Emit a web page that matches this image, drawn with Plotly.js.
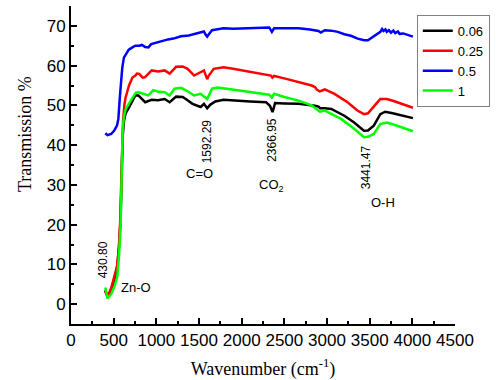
<!DOCTYPE html>
<html>
<head>
<meta charset="utf-8">
<script src="https://cdn.plot.ly/plotly-3.0.1.min.js"></script>
<style>html,body{margin:0;padding:0;background:#fff;}#chart{width:496px;height:380px;}</style>
</head>
<body>
<div id="chart"></div>
<script>
// Series names
const seriesNames = ["0.06", "0.25", "0.5", "1"];
const seriesColors = ["#000000", "#ff0000", "#0000ff", "#00ff00"];

// 0.06
const wn006 = [400,430,470,510,545,565,582,595,605,620,640,680,720,754,790,811,869,945,1020,1098,1156,1232,1309,1366,1424,1481,1520,1558,1596,1634,1691,1788,1902,2100,2285,2331,2362,2392,2500,2667,2859,2900,2920,2974,3050,3203,3318,3395,3433,3480,3548,3625,3682,3770,3854,3930,4007];
const t006 = [3.5,1.8,3.5,6,10,15,22,33,42,46,48,49.5,51,52.5,52.5,52.1,50.8,51.4,51.3,51.6,50.8,52.2,52.1,51.3,50.4,49.9,49.6,50.4,49.3,50.2,51.0,51.4,51.2,51.0,50.8,49.9,48.3,50.6,50.5,50.4,49.9,49.7,49.3,49.3,49.1,47.4,45.7,44.2,43.6,43.7,44.9,47.8,48.4,48.0,47.6,47.2,46.8];

// 0.25
const wn025 = [400,430,470,505,540,560,575,588,598,610,625,640,680,720,754,773,800,840,869,945,1020,1098,1156,1232,1309,1366,1443,1519,1558,1596,1615,1673,1720,1788,1900,2093,2250,2342,2360,2380,2500,2667,2820,2859,2880,2916,2974,3088,3241,3356,3433,3480,3528,3580,3625,3701,3780,3854,3930,4007];
const t025 = [3.2,2.0,4.0,6.6,9.5,14,20,30,40,46,50,52,55,57,57.5,58.0,57.9,57.0,57.1,58.8,58.5,58.8,58.0,59.7,59.8,59.2,57.5,58.4,58.8,56.6,57.5,59.2,59.3,59.6,59.2,58.4,57.9,57.5,57.0,57.4,56.8,55.9,55.0,54.6,54.0,53.5,54.0,52.9,50.8,48.7,47.8,48.0,49.1,50.5,51.6,51.6,51.1,50.6,50.0,49.4];

// 0.5
const wn05 = [402,428,470,505,540,555,574,590,601,620,639,677,720,754,800,830,869,907,940,984,1050,1137,1200,1289,1380,1481,1530,1558,1575,1596,1620,1653,1700,1788,1900,2093,2250,2323,2354,2380,2500,2667,2800,2859,2900,2928,2974,3050,3127,3203,3280,3360,3433,3480,3510,3560,3625,3645,3662,3685,3700,3725,3750,3777,3800,3830,3850,3892,3950,4007];
const t05 = [43.0,42.5,42.8,43.6,45.0,46.6,52.5,57.0,59.5,62.0,62.8,64.0,64.6,65.0,65.0,65.2,64.7,64.6,65.4,65.7,66.0,66.6,66.8,67.4,67.6,68.1,68.3,68.6,67.9,67.3,68.0,68.9,69.1,69.4,69.3,69.4,69.5,69.6,68.5,69.4,69.4,69.4,69.1,68.9,68.7,68.3,68.9,68.8,68.5,67.9,67.5,66.8,66.4,66.4,66.8,67.5,68.5,69.2,68.7,69.1,68.5,68.9,68.3,68.8,68.2,68.6,68.0,68.1,67.7,67.3];

// 1
const wn1 = [402,428,470,510,543,562,582,593,605,620,640,680,720,760,792,850,907,964,1030,1098,1156,1213,1289,1347,1443,1519,1596,1653,1720,1825,1950,2093,2250,2323,2354,2380,2500,2667,2820,2859,2880,2916,2974,3165,3318,3433,3480,3548,3625,3701,3780,3854,3930,4007];
const t1 = [4.2,1.4,2.5,4.5,7.0,12,20,30,44,47,49,50.5,52,53.2,53.3,52.8,52.5,53.8,53.4,53.3,52.5,54.2,54.4,53.8,52.5,52.9,51.6,54.2,54.5,54.2,53.8,53.3,52.9,52.7,52.0,52.9,52.1,51.2,50.0,49.3,48.9,48.4,48.7,46.6,44.1,42.0,42.1,42.8,45.3,45.7,45.2,44.6,44.0,43.5];

// Peak labels
const peakLabels = ["430.80", "1592.29", "2366.95", "3441.47"];
const groupLabels = ["Zn-O", "C=O", "CO<sub>2</sub>", "O-H"];
const xTitle = "Wavenumber (cm<sup>-1</sup>)";
const yTitle = "Transmission %";

const xs = [wn006, wn025, wn05, wn1];
const ys = [t006, t025, t05, t1];
const drawOrder = [0, 1, 2, 3];

const traces = drawOrder.map(i => ({
  x: xs[i], y: ys[i], type: "scatter", mode: "lines", name: seriesNames[i],
  line: {color: seriesColors[i], width: 2.5}
}));

const numFont = {family: "Arial, 'Liberation Sans', sans-serif", size: 12, color: "#000"};
const lblFont = {family: "Arial, 'Liberation Sans', sans-serif", size: 13, color: "#000"};
const titleFont = {family: "'Times New Roman', 'Liberation Serif', serif", size: 18, color: "#000"};

const annotations = [
  {x: 379, y: 11.1, text: peakLabels[0], textangle: -90, font: numFont},
  {x: 1596, y: 41, text: peakLabels[1], textangle: -90, font: numFont},
  {x: 2354, y: 41.3, text: peakLabels[2], textangle: -90, font: numFont},
  {x: 3467, y: 34.4, text: peakLabels[3], textangle: -90, font: numFont},
  {x: 563, y: 4.3, text: groupLabels[0], xanchor: "left", font: lblFont},
  {x: 1504, y: 32.9, text: groupLabels[1], font: lblFont},
  {x: 2354, y: 29.9, text: groupLabels[2], font: lblFont},
  {x: 3662, y: 25.6, text: groupLabels[3], font: lblFont}
].map(a => Object.assign({xref: "x", yref: "y", showarrow: false}, a));

// y-axis title placed as a paper annotation (offset above axis centre as in reference)
annotations.push({xref: "paper", yref: "paper", x: -0.12, y: 0.597, text: yTitle,
  textangle: -90, showarrow: false, font: titleFont, xanchor: "center", yanchor: "middle"});

const tickFont = {family: "Arial, 'Liberation Sans', sans-serif", size: 17, color: "#000"};

const layout = {
  width: 496, height: 380,
  margin: {l: 71, r: 33, t: 6, b: 56},
  paper_bgcolor: "#fff", plot_bgcolor: "#fff",
  showlegend: true,
  legend: {x: 0.9005, y: 0.972, xanchor: "left", yanchor: "top",
    bordercolor: "#808080", borderwidth: 1, bgcolor: "#fff",
    font: {family: "Arial, 'Liberation Sans', sans-serif", size: 13, color: "#000"},
    itemwidth: 30, tracegroupgap: 0},
  xaxis: {range: [0, 4500], dtick: 500, tick0: 0, showgrid: false, zeroline: false,
    showline: true, linecolor: "#000", linewidth: 2, ticks: "inside", ticklen: 6, tickwidth: 2, tickcolor: "#000",
    minor: {dtick: 250, ticks: "inside", ticklen: 3, tickwidth: 2, tickcolor: "#000", showgrid: false},
    tickfont: tickFont,
    title: {text: xTitle, font: titleFont, standoff: 13}},
  yaxis: {range: [-5, 75], dtick: 10, tick0: 0, showgrid: false, zeroline: false,
    showline: true, linecolor: "#000", linewidth: 2, ticks: "inside", ticklen: 6, tickwidth: 2, tickcolor: "#000",
    minor: {dtick: 5, ticks: "inside", ticklen: 3, tickwidth: 2, tickcolor: "#000", showgrid: false},
    tickfont: tickFont},
  annotations: annotations
};

Plotly.newPlot("chart", traces, layout, {staticPlot: true, displayModeBar: false});
</script>
</body>
</html>
